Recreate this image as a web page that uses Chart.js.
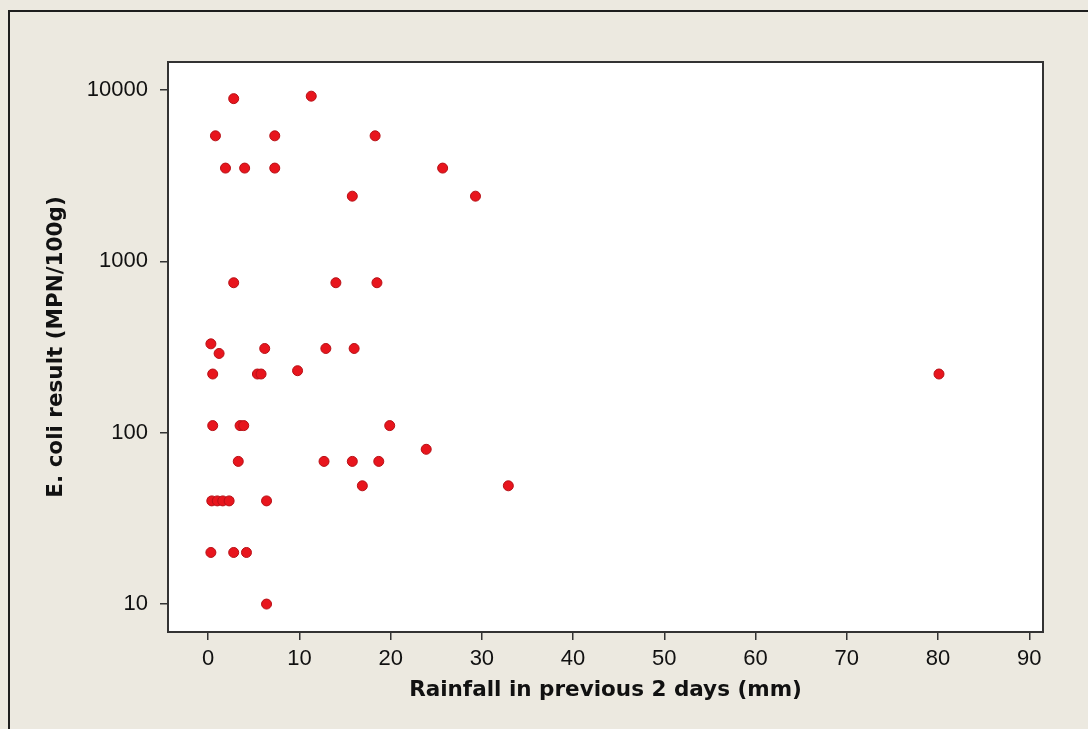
<!DOCTYPE html>
<html lang="en">
<head>
    <meta charset="UTF-8">
    <title>E. coli vs rainfall</title>
    <script src="https://cdn.jsdelivr.net/npm/chart.js"></script>
    <style>
        body { margin: 0; background: #ece9e0; }
        canvas { display: block; }
    </style>
</head>
<body>
    <canvas id="scatter" width="1088" height="729"></canvas>

    <script>
        // Rainfall in previous 2 days (mm) and matching E. coli result (MPN/100g)
        const rainfall = [
            2.8, 11.3,
            0.8, 7.3, 18.3,
            1.9, 4.0, 7.3, 25.7,
            15.8, 29.3,
            2.8, 14.0, 18.5,
            0.3, 1.2, 6.2, 12.9, 16.0,
            0.5, 5.4, 5.8, 9.8,
            0.5, 3.5, 3.9, 19.9,
            23.9,
            3.3, 12.7, 15.8, 18.7,
            16.9, 32.9,
            0.4, 1.0, 1.6, 2.3, 6.4,
            0.3, 2.8, 4.2,
            6.4,
            80.1
        ];
        const ecoli = [
            8900, 9200,
            5400, 5400, 5400,
            3500, 3500, 3500, 3500,
            2400, 2400,
            750, 750, 750,
            330, 290, 310, 310, 310,
            220, 220, 220, 230,
            110, 110, 110, 110,
            80,
            68, 68, 68, 68,
            49, 49,
            40, 40, 40, 40, 40,
            20, 20, 20,
            10,
            220
        ];
        const xTicks = [0, 10, 20, 30, 40, 50, 60, 70, 80, 90];
        const yTicks = [10, 100, 1000, 10000];

        const points = rainfall.map((r, i) => ({ x: r, y: ecoli[i] }));

        // white plot area with a dark frame, and the window border round the whole thing
        const framePlugin = {
            id: 'frame',
            beforeDraw(chart) {
                const ctx = chart.ctx;
                const a = chart.chartArea;
                ctx.save();
                ctx.fillStyle = '#ece9e0';
                ctx.fillRect(0, 0, chart.width, chart.height);
                ctx.strokeStyle = '#1e1e1e';
                ctx.lineWidth = 2;
                ctx.beginPath();
                ctx.moveTo(9, chart.height);
                ctx.lineTo(9, 11);
                ctx.lineTo(chart.width, 11);
                ctx.stroke();
                ctx.fillStyle = '#ffffff';
                ctx.fillRect(a.left, a.top, a.right - a.left, a.bottom - a.top);
                ctx.restore();
            },
            afterDatasetsDraw(chart) {
                const ctx = chart.ctx;
                const a = chart.chartArea;
                ctx.save();
                ctx.strokeStyle = '#333333';
                ctx.lineWidth = 2;
                ctx.strokeRect(a.left, a.top, a.right - a.left, a.bottom - a.top);
                ctx.restore();
            }
        };

        const tickFont = { family: '"Liberation Sans", Arial, sans-serif', size: 22 };
        const titleFont = { family: '"DejaVu Sans", Tahoma, sans-serif', size: 21.5, weight: 'bold' };

        new Chart(document.getElementById('scatter'), {
            type: 'scatter',
            data: {
                datasets: [{
                    data: points,
                    backgroundColor: '#e8151d',
                    borderColor: '#b81016',
                    borderWidth: 1,
                    pointRadius: 5,
                    pointHoverRadius: 5
                }]
            },
            plugins: [framePlugin],
            options: {
                responsive: false,
                animation: false,
                layout: { padding: { left: 0, top: 62, right: 45, bottom: 0 } },
                plugins: {
                    legend: { display: false },
                    tooltip: { enabled: false }
                },
                scales: {
                    x: {
                        type: 'linear',
                        min: -4.4,
                        max: 91.5,
                        afterBuildTicks: (scale) => { scale.ticks = xTicks.map(v => ({ value: v })); },
                        afterFit: (scale) => { scale.height = 97; },
                        grid: { drawOnChartArea: false, drawTicks: true, tickLength: 8, color: '#333', lineWidth: 1.5 },
                        border: { display: false },
                        ticks: { color: '#111', font: tickFont, padding: 6, maxRotation: 0 },
                        title: {
                            display: true,
                            text: 'Rainfall in previous 2 days (mm)',
                            color: '#111',
                            font: titleFont,
                            padding: { top: 0, bottom: 26 }
                        }
                    },
                    y: {
                        type: 'logarithmic',
                        min: 6.87,
                        max: 14560,
                        afterBuildTicks: (scale) => { scale.ticks = yTicks.map(v => ({ value: v })); },
                        afterFit: (scale) => { scale.width = 168; },
                        grid: { drawOnChartArea: false, drawTicks: true, tickLength: 8, color: '#333', lineWidth: 1.5 },
                        border: { display: false },
                        ticks: {
                            color: '#111',
                            font: tickFont,
                            padding: 12,
                            callback: (v) => String(v)
                        },
                        title: {
                            display: true,
                            text: 'E. coli result (MPN/100g)',
                            color: '#111',
                            font: titleFont,
                            padding: { top: 44, bottom: 0 }
                        }
                    }
                }
            }
        });
    </script>
</body>
</html>
